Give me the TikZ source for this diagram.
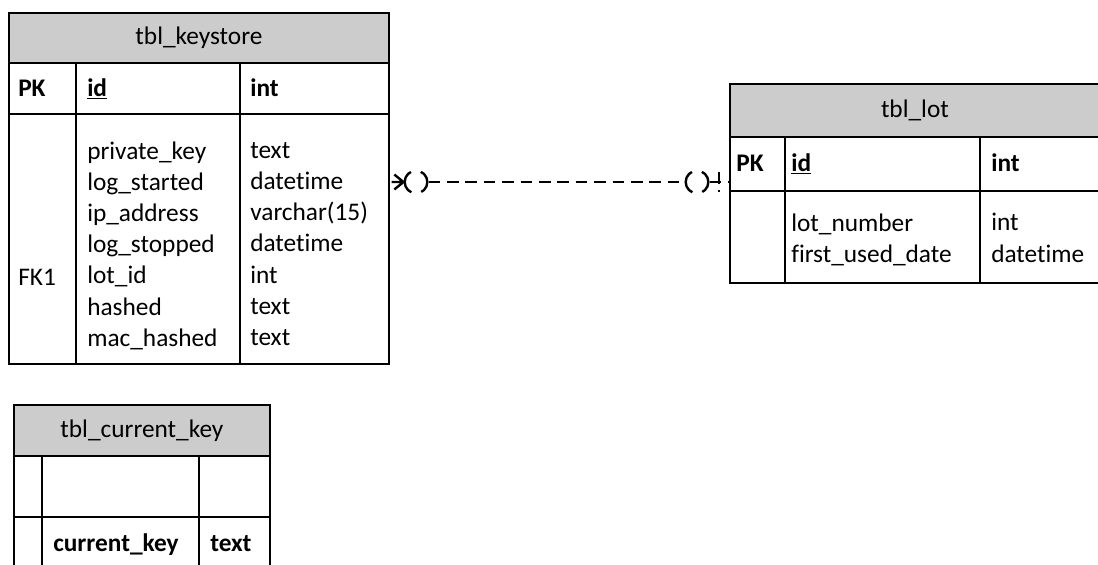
\documentclass[tikz,border=0pt]{standalone}
\usepackage{fontspec}
\setmainfont{Carlito}[Ligatures=NoCommon]
\definecolor{hdrgray}{RGB}{204,204,204}
\tikzset{
  tblline/.style={line width=1.4pt},
  tblhead/.style={draw,tblline,fill=hdrgray,inner sep=0pt,anchor=north west,font=\fontsize{19}{23.4}\selectfont},
  tblbox/.style={draw,tblline,inner sep=0pt,anchor=north west},
  cell/.style={anchor=west,inner sep=0pt,align=left,font=\fontsize{19}{23.4}\selectfont,
    execute at begin node=\strut,execute at end node=\strut},
  keycell/.style={cell,font=\fontsize{19}{23.4}\selectfont\bfseries},
  rel/.style={line width=1.8pt,dash pattern=on 8.8pt off 5pt},
  relcirc/.style={draw,circle,inner sep=0pt,minimum size=17pt,line width=1.8pt,dash pattern=on 19pt off 7.7pt,dash phase=9.5pt},
}
\begin{document}
\begin{tikzpicture}[x=0.75pt,y=-0.75pt]
    \useasboundingbox (0,0) rectangle (1098,564);
    \clip (0,0) rectangle (1098,564);
    %% tbl_keystore
    \node[tblhead,minimum width=285pt,minimum height=37.5pt] (ks-head) at (8,12) {tbl\_keystore};
    \node[tblbox,minimum width=285pt,minimum height=38.25pt] (ks-pk) at (8,62) {};
    \node[tblbox,minimum width=285pt,minimum height=187.5pt] (ks-body) at (8,113) {};
    \draw[tblline] (76,62) -- (76,363) (240,62) -- (240,363);
    \node[keycell] (ks-pk-lbl) at (18,90) {PK};
    \node[keycell] (ks-id) at (87,90) {\underline{id}};
    \node[keycell] (ks-id-type) at (250,90) {int};
    \node[cell] (ks-fk-lbl) at (18,279) {FK1};
    \node[cell] (ks-cols) at (87,248.5) {private\_key\\log\_started\\ip\_address\\log\_stopped\\lot\_id\\hashed\\mac\_hashed};
    \node[cell] (ks-types) at (250,248.5) {text\\datetime\\varchar(15)\\datetime\\int\\text\\text};
    %% tbl_lot
    \node[tblhead,minimum width=277.5pt,minimum height=39.75pt] (lot-head) at (729,83) {tbl\_lot};
    \node[tblbox,minimum width=277.5pt,minimum height=40.5pt] (lot-pk) at (729,136) {};
    \node[tblbox,minimum width=277.5pt,minimum height=69pt] (lot-body) at (729,190) {};
    \draw[tblline] (785,136) -- (785,282) (980,136) -- (980,282);
    \node[keycell] (lot-pk-lbl) at (736,165) {PK};
    \node[keycell] (lot-id) at (791,165) {\underline{id}};
    \node[keycell] (lot-id-type) at (991,165) {int};
    \node[cell] (lot-cols) at (791,242.5) {lot\_number\\first\_used\_date};
    \node[cell] (lot-types) at (991,242.5) {int\\datetime};
    %% tbl_current_key
    \node[tblhead,minimum width=192pt,minimum height=38.25pt] (ck-head) at (13,404) {tbl\_current\_key};
    \node[tblbox,minimum width=192pt,minimum height=45.75pt] (ck-row) at (13,455) {};
    \node[tblbox,minimum width=192pt,minimum height=48pt] (ck-body) at (13,516) {};
    \draw[tblline] (42,455) -- (42,580) (199,455) -- (199,580);
    \node[keycell] (ck-key) at (53,545) {current\_key};
    \node[keycell] (ck-type) at (210,545) {text};
    %% Relationship lot_id -> id
    \coordinate (rel-start) at (389,182);
    \coordinate (rel-end) at (729,182);
    \node[relcirc] (ks-opt) at (416,182) {};
    \node[relcirc] (lot-opt) at (697,182) {};
    \draw[rel] (ks-opt) -- (lot-opt);
    \draw[rel] (lot-opt) -- (rel-end);
    \draw[rel] (ks-opt.west) -- (390,171) (ks-opt.west) -- (rel-start) (ks-opt.west) -- (390,193);
    \draw[rel] (719,172) -- (719,192);
\end{tikzpicture}
\end{document}
